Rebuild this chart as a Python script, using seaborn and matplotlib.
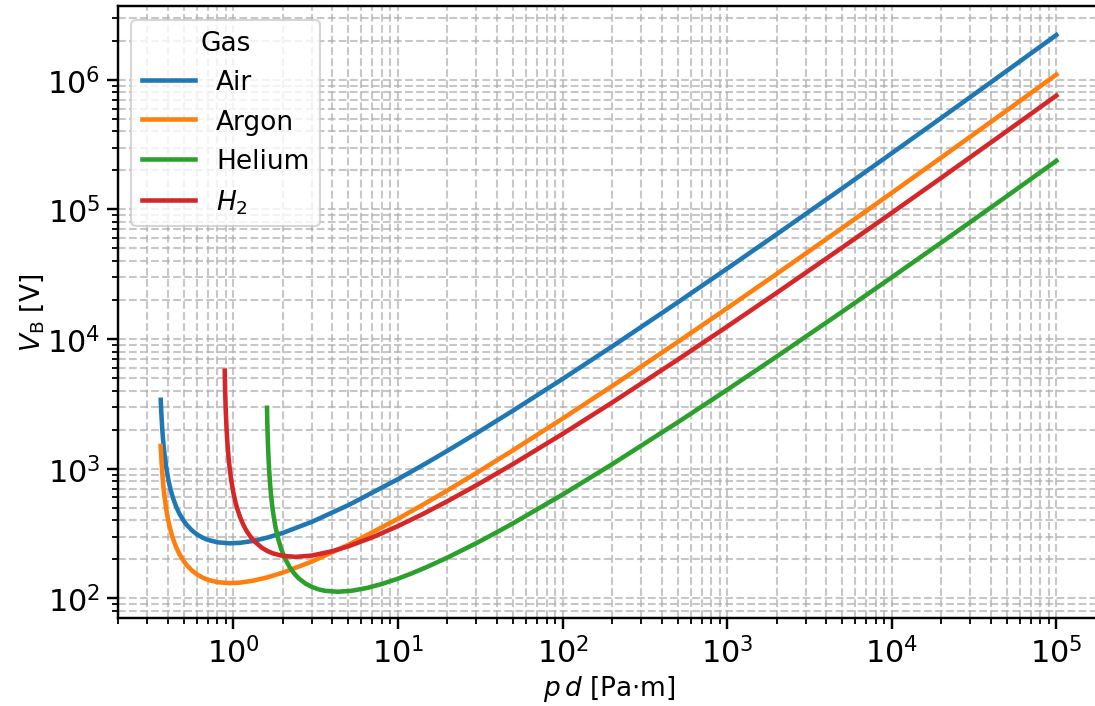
import pandas as pd
import matplotlib
matplotlib.use("Agg")
import matplotlib.pyplot as plt
import seaborn as sns

# =====================================================
# Values (p*d in Pa*m, V_B in V)
# =====================================================

air_pd = [0.3623, 0.365, 0.37, 0.375, 0.38, 0.39, 0.40, 0.41, 0.42, 0.43, 0.45, 0.47, 0.5,
          0.52, 0.56, 0.6, 0.65, 0.7, 0.8, 0.95, 1.1, 1.3, 1.6, 2, 3, 5, 10, 15, 20, 30,
          50, 100, 200, 500, 1000, 2000, 5000, 1e4, 2e4, 5e4, 1e5]
air_v = [3400, 2732, 2027, 1625, 1364, 1049, 864, 743, 658, 595, 507.5, 450.6, 395.1,
         369.7, 334.7, 312.3, 294.2, 282.7, 270.6, 265.8, 268.2, 276.4, 293.6, 319.9,
         389.1, 523.6, 830.5, 1111, 1376, 1876, 2804, 4920, 8765, 19147, 34957, 64308,
         145364, 271078, 507833, 1171500, 2213700]

argon_pd = [0.362, 0.365, 0.37, 0.375, 0.38, 0.39, 0.40, 0.41, 0.42, 0.43, 0.45, 0.47, 0.5,
            0.52, 0.56, 0.6, 0.65, 0.7, 0.8, 0.95, 1.1, 1.3, 1.6, 2, 3, 5, 10, 15, 20, 30,
            50, 100, 200, 500, 1000, 2000, 5000, 1e4, 2e4, 5e4, 1e5]
argon_v = [1500, 1221, 930, 757, 642, 499.7, 414.7, 358.4, 318.4, 288.6, 247.2, 220, 193.3,
           181.1, 164.2, 153.4, 144.7, 139.1, 133.3, 131.0, 132.3, 136.4, 144.9, 158.0,
           192.2, 258.8, 410.6, 549.4, 680.4, 927.6, 1386.8, 2433.6, 4335.7, 9471.9,
           17293, 31815, 71920, 134122, 251267, 579672, 1095400]

helium_pd = [1.602, 1.605, 1.61, 1.62, 1.63, 1.65, 1.675, 1.7, 1.725, 1.75, 1.8, 1.875,
             1.95, 2.05, 2.2, 2.35, 2.5, 2.75, 3.0, 3.3, 3.6, 4.3, 5.2, 6.5, 8, 10, 12,
             15, 20, 30, 40, 50, 100, 200, 500, 1000, 2000, 5000, 1e4, 2e4, 5e4, 1e5]
helium_v = [2950, 2570, 2166, 1656, 1344, 983, 743.7, 603.3, 511.1, 445.9, 360, 285.9,
            242.1, 205.8, 173.8, 154.8, 142.5, 129.9, 122.5, 117.3, 114.4, 112.5, 114.3,
            120.4, 129.2, 141.9, 155.0, 174.6, 206.4, 266.9, 324.3, 379.1, 631.6, 1082.3,
            2275.2, 4061.4, 7334.7, 16252, 29931, 55469, 126412, 236973]

h2_pd = [0.887, 0.89, 0.895, 0.90, 0.91, 0.92, 0.935, 0.95, 0.97, 1.0, 1.025, 1.05, 1.1,
         1.15, 1.2, 1.27, 1.35, 1.5, 1.62, 1.75, 2.0, 2.4, 3, 4, 5, 7, 10, 14, 20, 30,
         50, 100, 200, 500, 1000, 2000, 5000, 1e4, 2e4, 5e4, 1e5]
h2_v = [5700, 4478, 3410, 2762, 2015, 1597.5, 1230.6, 1009.6, 823.5, 656, 567.8, 504.9,
        421.7, 369.3, 333.5, 299.3, 273.4, 244.4, 231.0, 221.8, 212.5, 209.0, 213.9, 231.3,
        252.1, 295.8, 360.8, 443.8, 561.7, 745.9, 1086.2, 1854.8, 3236.2, 6922.8, 12482.7,
        22728, 50802, 94068, 175143, 401231, 754709]

gas_names = ["Air", "Argon", "Helium", "$H_2$"]

# =====================================================
# Build long table
# =====================================================

frames = []
for name, pd_vals, v_vals in zip(gas_names,
                                 [air_pd, argon_pd, helium_pd, h2_pd],
                                 [air_v, argon_v, helium_v, h2_v]):
    frames.append(pd.DataFrame({"pd": pd_vals, "V": v_vals, "Gas": name}))
df = pd.concat(frames, ignore_index=True)

# =====================================================
# Plot
# =====================================================

scale = 1.45
plt.rcParams.update({
    "font.size": 10 * scale,
    "axes.linewidth": 0.8 * scale,
    "xtick.major.size": 3.5 * scale,
    "ytick.major.size": 3.5 * scale,
    "xtick.minor.size": 2 * scale,
    "ytick.minor.size": 2 * scale,
    "xtick.major.width": 0.8 * scale,
    "ytick.major.width": 0.8 * scale,
    "xtick.minor.width": 0.6 * scale,
    "ytick.minor.width": 0.6 * scale,
    "grid.linewidth": 0.8 * 1.25,
})
small = 12.7

fig = plt.figure(figsize=(7.3, 4.7133), dpi=150)
ax = fig.add_axes([0.1080, 0.1240, 0.8973, 0.8656])

sns.lineplot(data=df, x="pd", y="V", hue="Gas", hue_order=gas_names,
             palette=["C0", "C1", "C2", "C3"], estimator=None, sort=True,
             linewidth=1.5 * scale, ax=ax)

ax.set_xscale("log")
ax.set_yscale("log")
ax.set_xlim(10 ** -0.699, 10 ** 5.27)
ax.set_ylim(10 ** 1.846, 10 ** 6.566)
ax.grid(True, which="both", linestyle="--", alpha=0.7)
ax.set_xlabel(r"$p\,d$ [Pa$\cdot$m]", fontsize=small, labelpad=2)
ax.set_ylabel(r"$V_\mathrm{B}$ [V]", fontsize=small, labelpad=0.5)
ax.legend(title="Gas", loc="upper left", fontsize=small, title_fontsize=small)

fig.savefig("out.png", dpi=150)
plt.close(fig)
